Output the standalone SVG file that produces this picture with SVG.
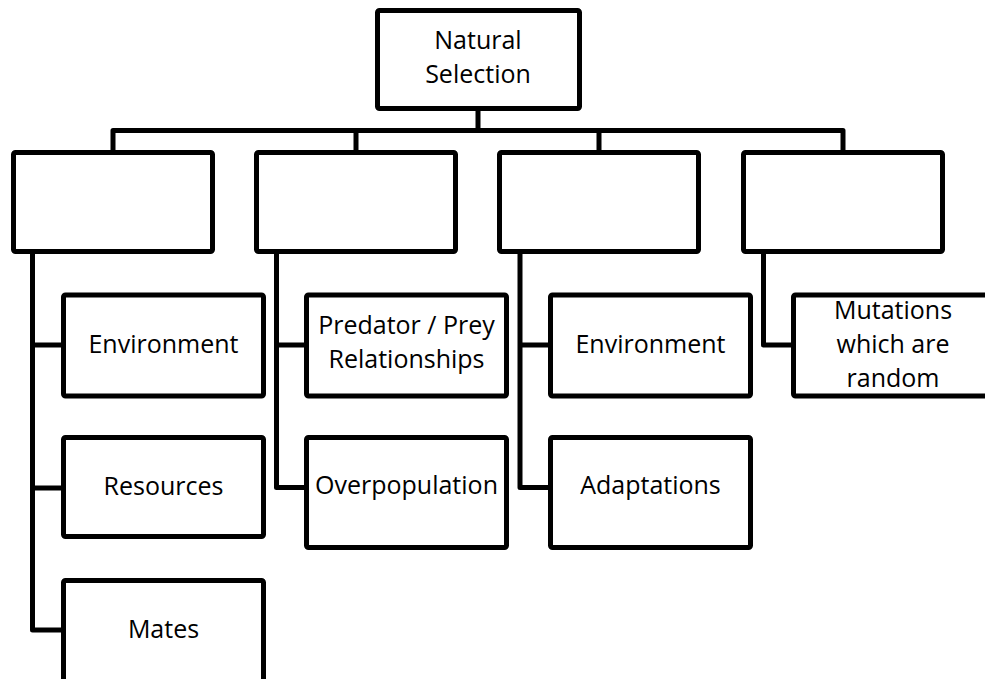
<svg xmlns="http://www.w3.org/2000/svg" width="985" height="679" viewBox="0 0 985 679">
<style>
.box{fill:#fff;stroke:#000;stroke-width:5;stroke-linejoin:round}
.ln{fill:none;stroke:#000;stroke-width:5;stroke-linejoin:round}
text{font-family:"Open Sans","Liberation Sans",sans-serif;font-size:25px;fill:#000;text-anchor:middle}
</style>
<rect width="985" height="679" fill="#fff"/>
<g id="connectors">
<path class="ln" d="M478,111V130.5M113,150V130.5H843V150M356,130.5V150M599,130.5V150"/>
<path class="ln" d="M32.5,254V630H61M32.5,345H61M32.5,488H61"/>
<path class="ln" d="M276.5,254V487.5H304M276.5,345H304"/>
<path class="ln" d="M520,254V487.5H548M520,345H548"/>
<path class="ln" d="M763.5,254V345H791"/>
</g>
<g id="n-root"><rect class="box" x="377.5" y="10.5" width="202" height="98" rx="2"/><text x="478" y="49">Natural</text><text x="478" y="83">Selection</text></g>
<g id="n-a"><rect class="box" x="13.5" y="152.5" width="199" height="99" rx="2"/></g>
<g id="n-b"><rect class="box" x="256.5" y="152.5" width="199" height="99" rx="2"/></g>
<g id="n-c"><rect class="box" x="499.5" y="152.5" width="199" height="99" rx="2"/></g>
<g id="n-d"><rect class="box" x="743.5" y="152.5" width="199" height="99" rx="2"/></g>
<g id="n-a1"><rect class="box" x="63.5" y="295" width="200" height="101" rx="2"/><text x="163.5" y="353">Environment</text></g>
<g id="n-a2"><rect class="box" x="63.5" y="437.5" width="200" height="99" rx="2"/><text x="163.5" y="495">Resources</text></g>
<g id="n-a3"><rect class="box" x="63.5" y="580.5" width="200" height="110" rx="2"/><text x="163.5" y="638">Mates</text></g>
<g id="n-b1"><rect class="box" x="306.5" y="295" width="200" height="101" rx="2"/><text x="406.5" y="334">Predator / Prey</text><text x="406.5" y="368">Relationships</text></g>
<g id="n-b2"><rect class="box" x="306.5" y="437.5" width="200" height="110" rx="2"/><text x="406.5" y="494">Overpopulation</text></g>
<g id="n-c1"><rect class="box" x="550.5" y="295" width="200" height="101" rx="2"/><text x="650.5" y="353">Environment</text></g>
<g id="n-c2"><rect class="box" x="550.5" y="437.5" width="200" height="110" rx="2"/><text x="650.5" y="494">Adaptations</text></g>
<g id="n-d1"><rect class="box" x="793.5" y="295" width="200" height="101" rx="2"/><text x="893" y="319">Mutations</text><text x="893" y="353">which are</text><text x="893" y="387">random</text></g>
</svg>
